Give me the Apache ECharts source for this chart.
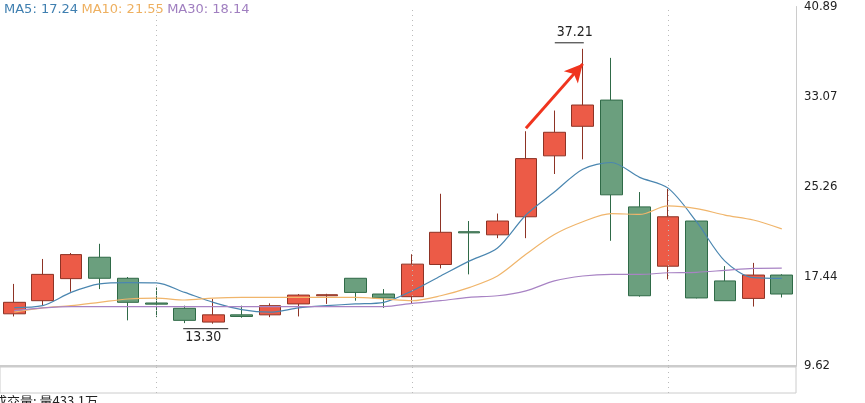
<!DOCTYPE html>
<html><head><meta charset="utf-8">
<script src="https://cdn.jsdelivr.net/npm/echarts@6/dist/echarts.min.js"></script>
<style>html,body{margin:0;padding:0;background:#fff}#c{width:865px;height:403px}</style>
</head><body><div id="c"></div>
<script>
const categories = Array.from({length:28},(_,i)=>'D'+(i+1));
// [open, close, low, high]
const ohlc = [
[14.16,15.16,13.93,16.76],[15.30,17.59,14.87,18.93],[17.22,19.31,16.08,19.45],[19.08,17.25,16.31,20.25],
[17.25,15.16,13.59,17.36],[15.10,15.00,13.87,16.45],[14.64,13.59,13.35,14.87],[13.44,14.07,13.30,15.45],
[14.07,13.93,13.82,14.87],[14.07,14.87,13.87,15.07],[15.02,15.79,13.93,15.87],[15.73,15.82,15.02,15.90],
[17.25,16.02,15.30,17.25],[15.88,15.54,14.67,16.31],[15.65,18.48,15.07,19.34],[18.45,21.25,18.11,24.60],
[21.30,21.20,17.59,22.23],[21.03,22.23,20.74,22.88],[22.60,27.66,20.74,30.04],[27.90,29.95,26.32,31.84],
[30.47,32.32,27.60,37.21],[32.75,24.51,20.51,36.42],[23.46,15.73,15.65,24.75],[18.30,22.60,17.16,25.03],
[22.23,15.54,15.50,22.23],[17.02,15.30,15.30,18.31],[15.50,17.53,14.79,18.59],[17.53,15.88,15.58,17.60]];
const ma5 = [14.70,14.87,16.02,16.76,16.87,16.85,16.02,15.16,14.53,14.30,14.67,14.87,15.02,15.16,16.16,17.45,18.74,19.88,22.75,24.75,26.74,27.32,26.03,25.09,22.17,18.74,17.30,17.24];
const ma10 = [14.30,14.67,14.87,15.16,15.45,15.53,15.36,15.53,15.59,15.59,15.59,15.59,15.59,15.45,15.30,15.73,16.44,17.45,19.34,21.06,22.17,22.88,22.80,23.54,23.31,22.75,22.32,21.55];
const ma30 = [14.44,14.67,14.79,14.79,14.79,14.79,14.79,14.79,14.79,14.79,14.79,14.79,14.79,14.79,15.07,15.30,15.59,15.73,16.16,17.02,17.45,17.59,17.59,17.73,17.77,17.94,18.11,18.14];
const yTicks = [9.62,17.44,25.26,33.07,40.89];
const gridCats = [5,14,23];
const maxPt = {idx:20, val:37.21, label:'37.21'};
const minPt = {idx:7, val:13.30, label:'13.30'};
const arrow = [[18,30.3],[20,35.9]];

const chart = echarts.init(document.getElementById('c'));
const vLines = {silent:true,symbol:['none','none'],label:{show:false},lineStyle:{color:'#bbb',type:[1,4],width:1},
  data:gridCats.map(i=>({xAxis:categories[i]}))};
const baseOpt = {
  animation:false,
  grid:[{left:-2,right:69,top:2,bottom:37},{left:-2,right:69,top:367,bottom:10,show:true,borderColor:'#ccc',borderWidth:1}],
  xAxis:[{type:'category',data:categories,gridIndex:0,axisLine:{lineStyle:{color:'#ccc',width:2}},axisTick:{show:false},axisLabel:{show:false},splitLine:{show:false}},
         {type:'category',data:categories,gridIndex:1,axisLine:{show:false},axisTick:{show:false},axisLabel:{show:false},splitLine:{show:false}}],
  yAxis:[{type:'value',gridIndex:0,position:'right',min:yTicks[0],max:yTicks[4],interval:(yTicks[4]-yTicks[0])/4,
          axisLine:{show:true,lineStyle:{color:'#ccc'}},axisTick:{show:false},splitLine:{show:false},
          axisLabel:{color:'#222',fontSize:13,fontFamily:'DejaVu Sans Condensed',margin:8,formatter:v=>v.toFixed(2)}},
         {type:'value',gridIndex:1,show:false,min:0,max:1}],
  series:[
    {type:'candlestick',data:ohlc,barWidth:'78%',z:3,
     itemStyle:{color:'#ec5b47',color0:'#6b9f7e',borderColor:'#8e3325',borderColor0:'#2f6a47',borderWidth:1},
     markLine:vLines},
    {type:'line',data:ma5,showSymbol:false,smooth:0.3,z:4,lineStyle:{color:'#4a86b0',width:1.2}},
    {type:'line',data:ma10,showSymbol:false,smooth:0.3,z:4,lineStyle:{color:'#f0b56b',width:1.2}},
    {type:'line',data:ma30,showSymbol:false,smooth:0.3,z:4,lineStyle:{color:'#a883c4',width:1.2}},
    {type:'line',data:categories.map(()=>'-'),xAxisIndex:1,yAxisIndex:1,showSymbol:false,markLine:vLines},
    {type:'line',data:[],z:6,markLine:{silent:true,symbol:['none','arrow'],symbolSize:[14,18],lineStyle:{color:'#f0341e',width:3,type:'solid'},label:{show:false},
       data:[[{coord:arrow[0]},{coord:arrow[1]}]]}}
  ]
};
chart.setOption(baseOpt);
const pMax = chart.convertToPixel({gridIndex:0},[maxPt.idx,maxPt.val]);
const pMin = chart.convertToPixel({gridIndex:0},[minPt.idx,minPt.val]);
const f = 'DejaVu Sans';
chart.setOption({graphic:[
  {type:'text',left:4,top:3,style:{rich:{a:{fill:'#3f7fb0',fontSize:13,fontFamily:f},b:{fill:'#eeb060',fontSize:13,fontFamily:f},c:{fill:'#a07fc0',fontSize:13,fontFamily:f}},
    text:'{a|MA5: '+ma5[27].toFixed(2)+'} {b|MA10: '+ma10[27].toFixed(2)+'} {c|MA30: '+ma30[27].toFixed(2)+'}'}},
  {type:'text',left:-6,top:395,style:{text:'成交量: 量433.1万',fill:'#222',fontSize:13,fontFamily:'Noto Sans CJK SC'}},
  {type:'text',x:pMax[0]-26,y:pMax[1]-23,style:{text:maxPt.label,fill:'#222',fontSize:14,fontFamily:'DejaVu Sans Condensed'}},
  {type:'line',shape:{x1:pMax[0]-28,y1:pMax[1]-6,x2:pMax[0]+1,y2:pMax[1]-6},style:{stroke:'#222',lineWidth:1}},
  {type:'text',x:pMin[0]-28,y:pMin[1]+7,style:{text:minPt.label,fill:'#222',fontSize:14,fontFamily:'DejaVu Sans Condensed'}},
  {type:'line',shape:{x1:pMin[0]-30,y1:pMin[1]+5,x2:pMin[0]+15,y2:pMin[1]+5},style:{stroke:'#222',lineWidth:1}}
]});
</script></body></html>
